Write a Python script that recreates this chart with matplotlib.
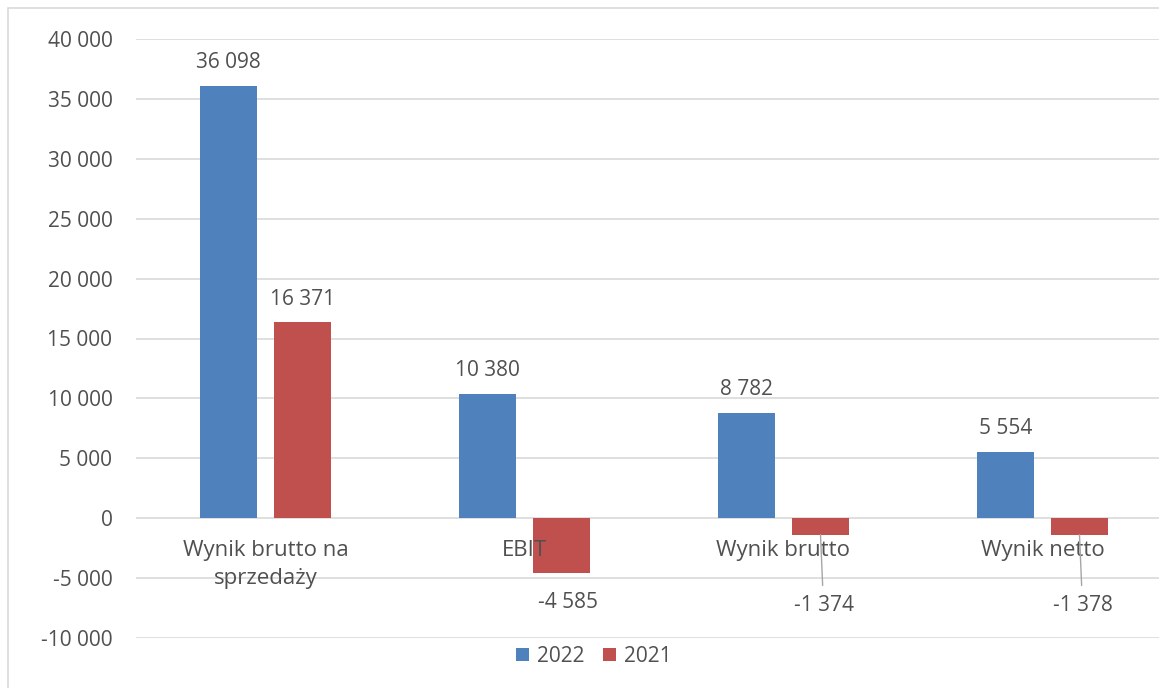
import matplotlib.pyplot as plt
from matplotlib.patches import Rectangle
import numpy as np

plt.rcParams['font.family'] = ['Open Sans', 'DejaVu Sans']

categories = ["Wynik brutto na\nsprzedaży", "EBIT", "Wynik brutto", "Wynik netto"]
vals_2022 = [36098, 10380, 8782, 5554]
vals_2021 = [16371, -4585, -1374, -1378]
series_names = ["2022", "2021"]

# label offsets in pixels (dx, dy) for the 2021 series
off_2021 = [(0, 23), (6, -29), (3, -71), (3, -71)]
leader_2021 = [False, False, True, True]

BLUE = "#4F81BD"
RED = "#C0504D"
TXT = "#505050"
GRID = "#D9D9D9"
FS = 15
FS_CAT = 16


def fmt(v):
    return "{:,}".format(v).replace(",", " ")


fig = plt.figure(figsize=(11.59, 6.88), dpi=100)
fig.patches.append(Rectangle((8 / 1159, -0.2), 1.2, 0.2 + (688 - 8) / 688, transform=fig.transFigure,
                             fill=False, edgecolor=GRID, lw=1.2))
ax = fig.add_axes([136 / 1159, 1 - 638 / 688, 1 - 136 / 1159, 599 / 688])

x = np.arange(len(categories))
w = 0.22
off = 0.143
ax.bar(x - off, vals_2022, w, color=BLUE, label=series_names[0], zorder=3)
ax.bar(x + off, vals_2021, w, color=RED, label=series_names[1], zorder=3)

ax.set_ylim(-10000, 40000)
ax.set_xlim(-0.5, 3.45)
ax.set_yticks(np.arange(-10000, 40001, 5000))
ax.set_yticklabels([fmt(v) for v in range(-10000, 40001, 5000)])
ax.tick_params(axis='y', length=0, pad=17, labelsize=FS, labelcolor=TXT)
ax.set_xticks([])
ax.grid(axis='y', color=GRID, lw=1.2, zorder=0)
for s in ax.spines.values():
    s.set_visible(False)

for i, c in enumerate(categories):
    ax.annotate(c, (i, 0), xytext=(0, -22), textcoords='offset pixels', ha='center', va='top',
                fontsize=FS_CAT, color=TXT, linespacing=1.4, zorder=5)

for i, v in enumerate(vals_2022):
    ax.annotate(fmt(v), (i - off, v), xytext=(0, 23), textcoords='offset pixels',
                ha='center', va='center', fontsize=FS, color=TXT, zorder=5)

for i, v in enumerate(vals_2021):
    dx, dy = off_2021[i]
    if leader_2021[i]:
        ax.annotate(fmt(v), (i + off, v), xytext=(dx, dy), textcoords='offset pixels',
                    ha='center', va='center', fontsize=FS, color=TXT, zorder=5,
                    arrowprops=dict(arrowstyle='-', color='#A6A6A6', lw=1, shrinkA=5, shrinkB=0))
    else:
        ax.annotate(fmt(v), (i + off, v), xytext=(dx, dy), textcoords='offset pixels',
                    ha='center', va='center', fontsize=FS, color=TXT, zorder=5)

fig.legend(loc='center', bbox_to_anchor=(594 / 1159, 1 - 656 / 688), ncol=2, frameon=False,
           fontsize=FS, labelcolor=TXT, handlelength=0.6, handleheight=0.6,
           handletextpad=0.4, columnspacing=0.9)

fig.savefig("out.png", dpi=100)
